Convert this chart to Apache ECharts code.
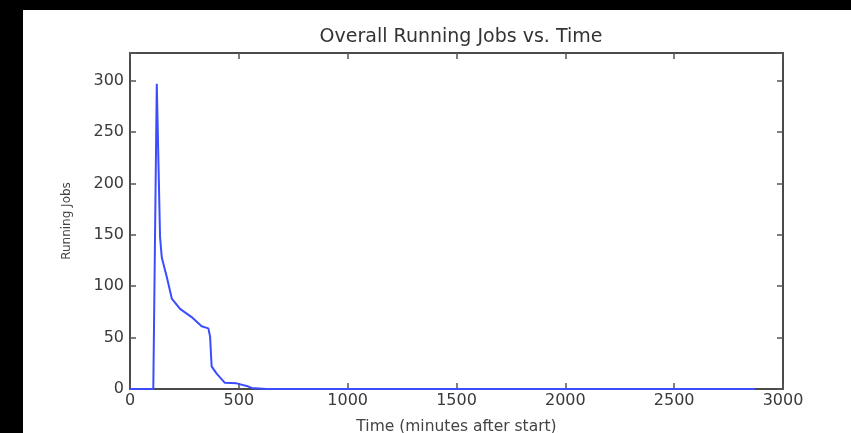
<!DOCTYPE html>
<html>
<head>
<meta charset="utf-8">
<script src="https://cdn.jsdelivr.net/npm/echarts@6/dist/echarts.min.js"></script>
<style>
  html, body { margin: 0; padding: 0; background: #000; }
  #chart { position: absolute; left: 23px; top: 10px; width: 828px; height: 423px; background: #fff; }
</style>
</head>
<body>
<div id="chart"></div>
<script>
// minutes after start
const times = [0, 107, 123, 138, 146, 169, 192, 230, 283, 329, 360, 368, 375, 398, 436, 490, 536, 559, 628, 2870];
// running jobs
const jobs = [0, 0, 297, 148, 128, 109, 88, 78, 70, 61, 59, 51, 22, 15, 6, 5.5, 3, 1, 0, 0];
const xTicks = [0, 500, 1000, 1500, 2000, 2500, 3000];
const yTicks = [0, 50, 100, 150, 200, 250, 300];

const frame = { show: true, onZero: false, lineStyle: { color: "#4a4a4a", width: 2 } };
const tick = { show: true, inside: true, length: 6, lineStyle: { color: "#555", width: 1.5 } };
const tickFont = { fontFamily: "DejaVu Sans", fontSize: 16, color: "#3a3a3a" };

const chart = echarts.init(document.getElementById("chart"), null, { renderer: "canvas" });
chart.setOption({
  animation: false,
  backgroundColor: "#fff",
  title: {
    text: "Overall Running Jobs vs. Time",
    left: 433, top: 13, textAlign: "center",
    textStyle: { fontFamily: "DejaVu Sans", fontSize: 19, fontWeight: "normal", color: "#333" }
  },
  grid: { left: 107, right: 68, top: 43, bottom: 44, outerBoundsMode: "none" },
  xAxis: [
    {
      type: "value", min: 0, max: 3000, interval: 500,
      axisLine: frame, axisTick: tick, splitLine: { show: false },
      axisLabel: Object.assign({ margin: 4, formatter: v => xTicks.includes(v) ? String(v) : "" }, tickFont),
      name: "Time (minutes after start)", nameLocation: "middle", nameGap: 30,
      nameTextStyle: { fontFamily: "DejaVu Sans", fontSize: 15.5, color: "#444" }
    },
    {
      type: "value", position: "top", min: 0, max: 3000, interval: 500,
      axisLine: frame, axisTick: tick, axisLabel: { show: false }, splitLine: { show: false }
    }
  ],
  yAxis: [
    {
      type: "value", min: 0, max: 327, interval: 50,
      axisLine: frame, axisTick: tick, splitLine: { show: false },
      axisLabel: Object.assign({ margin: 6, formatter: v => yTicks.includes(v) ? String(v) : "" }, tickFont),
      name: "Running Jobs", nameLocation: "middle", nameGap: 57, nameRotate: 90,
      nameTextStyle: { fontFamily: "DejaVu Sans", fontSize: 12, color: "#444" }
    },
    {
      type: "value", position: "right", min: 0, max: 327, interval: 50,
      axisLine: frame, axisTick: tick, axisLabel: { show: false }, splitLine: { show: false }
    }
  ],
  series: [{
    type: "line",
    data: times.map((t, i) => [t, jobs[i]]),
    showSymbol: false,
    lineStyle: { color: "#3b4dff", width: 2 },
    clip: false
  }]
});
</script>
</body>
</html>
